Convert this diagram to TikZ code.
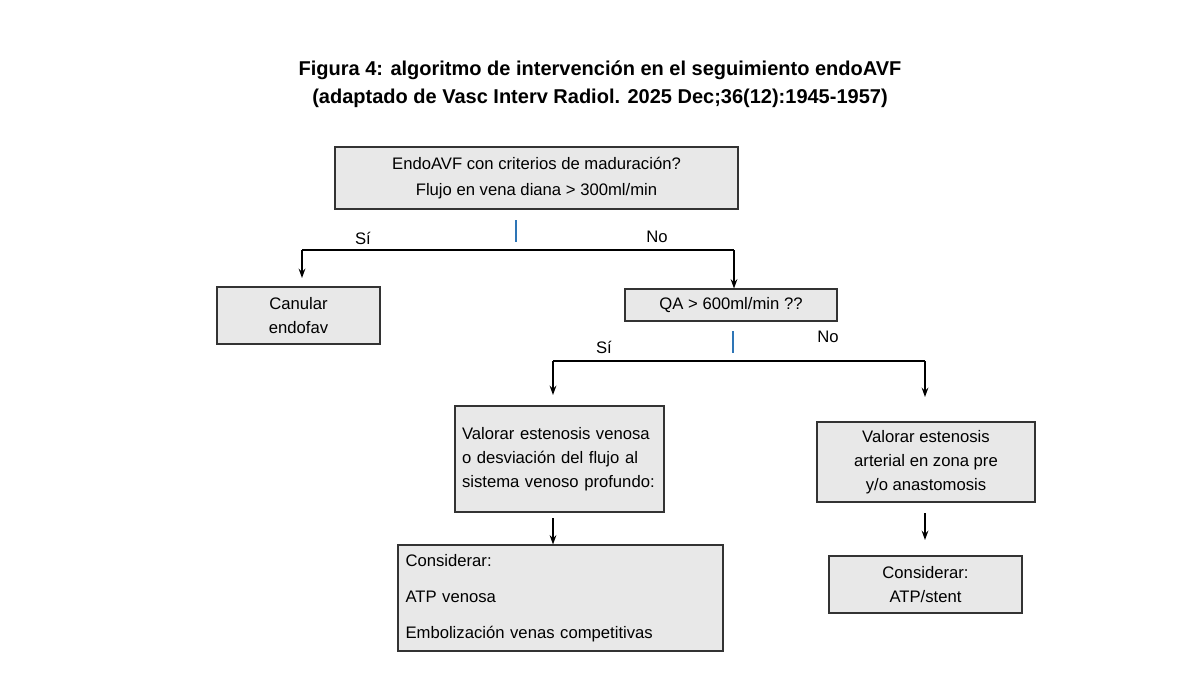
\documentclass[tikz,border=0pt]{standalone}
\usepackage{fontspec}
\setmainfont{Liberation Sans}
\usetikzlibrary{arrows.meta}
\begin{document}
\begin{tikzpicture}[x=0.75pt,y=-0.75pt,
  box/.style={draw=black!80,fill=black!9,line width=0.8pt,inner sep=4pt,font=\fontsize{12.5}{18}\selectfont},
  lbl/.style={font=\fontsize{12.5}{15}\selectfont},
  arr/.style={line width=1.3pt,-{Stealth[length=7pt,width=5pt]}},
  bar/.style={line width=1.3pt},
  tick/.style={draw={rgb,255:red,46;green,117;blue,182},line width=1pt}]
\useasboundingbox (0,0) rectangle (1200,675);
\node[font=\bfseries\fontsize{15}{21}\selectfont,align=center] (title) at (600,84) {Figura 4: algoritmo de intervención en el seguimiento endoAVF\\(adaptado de Vasc Interv Radiol. 2025 Dec;36(12):1945-1957)};
\node[box,minimum width=403*0.75pt,minimum height=62*0.75pt,align=center,font=\fontsize{12.5}{20}\selectfont] (top) at (536.5,178) {EndoAVF con criterios de maduración?\\Flujo en vena diana > 300ml/min};
\node[box,minimum width=163*0.75pt,minimum height=57*0.75pt,align=center] (can) at (298.5,315.5) {Canular\\endofav};
\node[box,minimum width=212*0.75pt,minimum height=32*0.75pt] (qa) at (731,305) {QA > 600ml/min ??};
\node[box,minimum width=209*0.75pt,minimum height=106*0.75pt,align=left,text width=195*0.75pt] (ven) at (559.5,459) {Valorar estenosis venosa o desviación del flujo al sistema venoso profundo:};
\node[box,minimum width=218*0.75pt,minimum height=80*0.75pt,align=center] (art) at (926,462) {Valorar estenosis\\arterial en zona pre\\y/o anastomosis};
\node[box,minimum width=325*0.75pt,minimum height=106*0.75pt,align=left,text width=310*0.75pt,font=\fontsize{12.5}{27}\selectfont] (c1) at (560.5,598) {Considerar:\\*ATP venosa\\*Embolización venas competitivas};
\node[box,minimum width=193*0.75pt,minimum height=57*0.75pt,align=center] (c2) at (925.5,584.5) {Considerar:\\ATP/stent};
% first branch
\coordinate (t1) at (516,220); \coordinate (t2) at (516,242);
\draw[tick] (t1) -- (t2);
\coordinate (bl) at (302,250); \coordinate (br) at (734,250);
\draw[bar] (bl) -- (br);
\draw[arr] (bl) -- (302,278);
\draw[arr] (br) -- (qa.north -| br);
\node[lbl] (si1) at (363,238) {Sí};
\node[lbl] (no1) at (657,237) {No};
% second branch
\draw[tick] (733,331) -- (733,353);
\coordinate (b2l) at (553,361); \coordinate (b2r) at (925,361);
\draw[bar] (b2l) -- (b2r);
\draw[arr] (b2l) -- (553,395);
\draw[arr] (b2r) -- (925,397);
\node[lbl] (si2) at (604,347) {Sí};
\node[lbl] (no2) at (828,337) {No};
% lower arrows
\draw[arr] (553,518) -- (c1.north -| 553,0);
\draw[arr] (925,513) -- (925,540);
\end{tikzpicture}
\end{document}
